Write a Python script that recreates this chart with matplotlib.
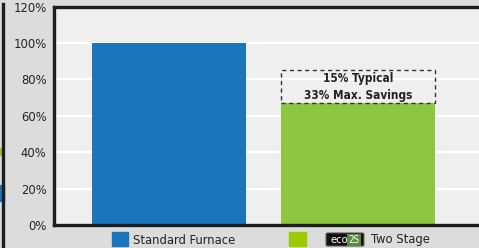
import matplotlib.pyplot as plt
from matplotlib.patches import Rectangle, FancyBboxPatch
from matplotlib.lines import Line2D

# chart data
categories = ['Standard Furnace', 'Two Stage']
values = [100, 67]
savings_top = 85
savings_label = '15% Typical\n33% Max. Savings'
yticks = [0, 20, 40, 60, 80, 100, 120]
ytick_labels = [str(t) + '%' for t in yticks]

blue = '#1a75bc'
green = '#8dc63f'
green_legend = '#99cc00'
dark = '#1e1e1e'
txt = '#222222'

W, H = 479, 248
plt.rcParams['font.family'] = ['DejaVu Sans Condensed', 'Liberation Sans Narrow', 'DejaVu Sans']
plt.rcParams['font.stretch'] = 'condensed'

fig = plt.figure(figsize=(W / 100, H / 100), dpi=100)
fig.patch.set_facecolor('#dcdcdc')


def fx(px):
    return px / W


def fy(py):
    return 1 - py / H


ax = fig.add_axes([fx(53.5), fy(225), 1 - fx(53.5), fy(6.5) - fy(225)])
ax.set_facecolor('#efefef')
ax.set_axisbelow(True)
ax.yaxis.grid(True, color='white', lw=1.6)

x = list(range(len(categories)))
ax.bar(x, values, width=0.815, color=[blue, green], zorder=2)

# savings box on top of the two stage bar
ax.add_patch(Rectangle((1 - 0.405, values[1]), 0.81, savings_top - values[1],
                       fill=False, ls=(0, (3, 2.5)), lw=1.0, ec='#333333', zorder=3))
ax.text(1, (values[1] + savings_top) / 2, savings_label, ha='center', va='center',
        fontsize=8.5, color=txt, fontweight='bold', linespacing=1.4, zorder=4)

ax.set_ylim(0, 120)
ax.set_xlim(-0.611, 1.64)
ax.set_yticks(yticks)
ax.set_yticklabels(ytick_labels, fontsize=9.3, color=txt)
ax.set_xticks([])
ax.tick_params(axis='y', length=0, pad=5)
for s in ['left', 'top', 'bottom']:
    ax.spines[s].set_color(dark)
    ax.spines[s].set_linewidth(2.4)
ax.spines['right'].set_visible(False)

# legend row
fig.patches.append(Rectangle((fx(112), fy(246)), fx(16), fy(232) - fy(246),
                             color=blue, transform=fig.transFigure))
fig.text(fx(133), fy(240), categories[0], fontsize=9.3, color=txt,
         va='center', ha='left')
fig.patches.append(Rectangle((fx(289), fy(246)), fx(17), fy(232) - fy(246),
                             color=green_legend, transform=fig.transFigure))
fig.patches.append(FancyBboxPatch((fx(328), fy(245)), fx(34), fy(234) - fy(245),
                                  boxstyle='round,pad=0.004', fc='#111111', ec='#555555',
                                  lw=0.8, transform=fig.transFigure))
fig.text(fx(339), fy(240), 'eco', fontsize=8, color='white', va='center', ha='center')
fig.text(fx(354), fy(240), '2S', fontsize=7, color='white', va='center', ha='center',
         bbox=dict(boxstyle='square,pad=0.1', fc='#5a8a3a', ec='none'))
fig.text(fx(371), fy(240), categories[1], fontsize=9.3, color=txt,
         va='center', ha='left')

# edge of the neighbouring panel on the left
fig.add_artist(Line2D([fx(3), fx(3)], [fy(4), 0], color=dark, lw=2.4))
fig.patches.append(Rectangle((0, fy(155)), fx(2), fy(148) - fy(155),
                             color=green, transform=fig.transFigure))
fig.patches.append(Rectangle((0, fy(201)), fx(4), fy(185) - fy(201),
                             color=blue, transform=fig.transFigure))

fig.savefig('out.png', dpi=100, facecolor=fig.get_facecolor())
